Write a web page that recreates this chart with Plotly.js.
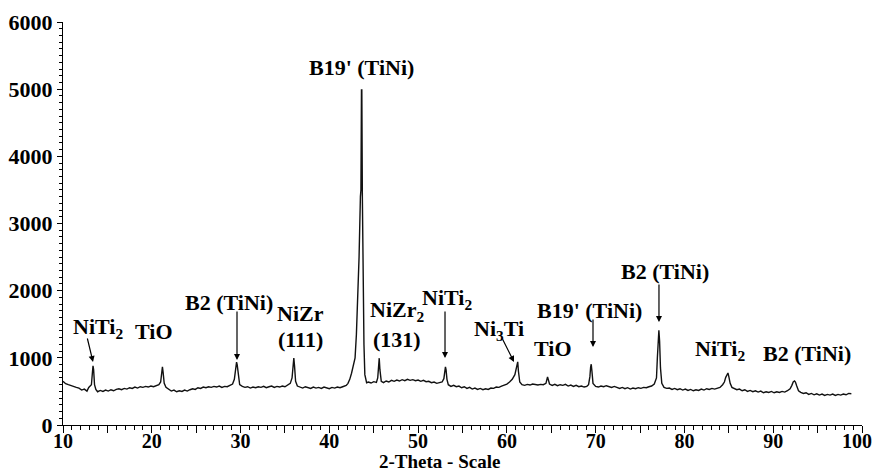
<!DOCTYPE html>
<html>
<head>
<meta charset="utf-8">
<script src="https://cdn.plot.ly/plotly-3.0.1.min.js"></script>
<style>html,body{margin:0;padding:0;background:#fff;}#chart{width:872px;height:472px;}</style>
</head>
<body>
<div id="chart"></div>
<script>
// 2-theta positions (degrees)
const twoTheta = [
  10.0, 10.3, 10.6, 10.9, 11.2, 11.5, 11.8, 12.1, 12.4, 12.7, 12.9, 13.05,
  13.2, 13.3, 13.38, 13.45, 13.55, 13.7,
  13.9, 14.2, 14.5, 14.8, 15.1, 15.4, 15.7, 16.0, 16.3, 16.6, 16.9, 17.2, 17.5, 17.8, 18.1, 18.4, 18.7, 19.0, 19.3, 19.6, 19.9, 20.2, 20.5, 20.8,
  21.0, 21.1, 21.2, 21.28, 21.4, 21.6,
  21.9, 22.2, 22.5, 22.8, 23.1, 23.4, 23.7, 24.0, 24.3, 24.6, 24.9, 25.2, 25.5, 25.8, 26.1, 26.4, 26.7, 27.0, 27.3, 27.6, 27.9, 28.2, 28.5, 28.8, 29.1,
  29.3, 29.45, 29.55, 29.62, 29.75, 29.9,
  30.2, 30.5, 30.8, 31.1, 31.4, 31.7, 32.0, 32.3, 32.6, 32.9, 33.2, 33.5, 33.8, 34.1, 34.4, 34.7, 35.0, 35.3, 35.6,
  35.8, 35.9, 36.0, 36.08, 36.2, 36.4,
  36.7, 37.0, 37.3, 37.6, 37.9, 38.2, 38.5, 38.8, 39.1, 39.4, 39.7, 40.0, 40.3, 40.6, 40.9, 41.2, 41.5, 41.7,
  41.9, 42.1, 42.3, 42.5, 42.7, 42.9, 43.05, 43.2, 43.35, 43.5, 43.56, 43.62, 43.66, 43.72, 43.8, 43.9, 44.0, 44.1, 44.2,
  44.4, 44.7, 45.0, 45.3,
  45.45, 45.55, 45.62, 45.7, 45.85,
  46.1, 46.4, 46.7, 47.0, 47.3, 47.6, 47.9, 48.2, 48.5, 48.8, 49.1, 49.4, 49.7, 50.0, 50.3, 50.6, 50.9, 51.2, 51.5, 51.8, 52.1, 52.4, 52.7,
  52.9, 53.0, 53.08, 53.15, 53.25, 53.4,
  53.7, 54.0, 54.3, 54.6, 54.9, 55.2, 55.5, 55.8, 56.1, 56.4, 56.7, 57.0, 57.3, 57.6, 57.9, 58.2, 58.5, 58.8, 59.1, 59.4, 59.7, 60.0, 60.3, 60.6, 60.9,
  61.05, 61.15, 61.22, 61.3, 61.45,
  61.7, 62.0, 62.3, 62.6, 62.9, 63.2, 63.5, 63.8, 64.1, 64.4,
  64.5, 64.58, 64.66, 64.8,
  65.1, 65.4, 65.7, 66.0, 66.3, 66.6, 66.9, 67.2, 67.5, 67.8, 68.1, 68.4, 68.7, 69.0, 69.2,
  69.35, 69.43, 69.5, 69.58, 69.7,
  70.0, 70.3, 70.6, 70.9, 71.2, 71.5, 71.8, 72.1, 72.4, 72.7, 73.0, 73.3, 73.6, 73.9, 74.2, 74.5, 74.8, 75.1, 75.4, 75.7, 76.0, 76.3, 76.6,
  76.85, 76.95, 77.05, 77.12, 77.2, 77.3, 77.45,
  77.7, 78.0, 78.3, 78.6, 78.9, 79.2, 79.5, 79.8, 80.1, 80.4, 80.7, 81.0, 81.3, 81.6, 81.9, 82.2, 82.5, 82.8, 83.1, 83.4, 83.7, 84.0, 84.3,
  84.5, 84.65, 84.8, 84.9, 85.0, 85.15, 85.35,
  85.6, 85.9, 86.2, 86.5, 86.8, 87.1, 87.4, 87.7, 88.0, 88.3, 88.6, 88.9, 89.2, 89.5, 89.8, 90.1, 90.4, 90.7, 91.0, 91.3, 91.6, 91.9,
  92.1, 92.25, 92.4, 92.5, 92.65, 92.85,
  93.1, 93.4, 93.7, 94.0, 94.3, 94.6, 94.9, 95.2, 95.5, 95.8, 96.1, 96.4, 96.7, 97.0, 97.3, 97.6, 97.9, 98.2, 98.5, 98.8
];
// intensity (counts)
const intensity = [
  650, 615, 600, 590, 575, 560, 548, 520, 535, 505, 560, 575,
  600, 760, 880, 820, 600, 530,
  495, 515, 500, 520, 505, 525, 510, 530, 540, 525, 545, 535, 555, 545, 565, 550, 570, 560, 575, 565, 580, 570, 585, 600,
  640, 760, 865, 780, 620, 560,
  530, 505, 520, 495, 510, 500, 520, 505, 525, 540, 530, 555, 545, 565, 555, 570, 560, 575, 565, 580, 560, 575, 570, 590, 610,
  680, 820, 935, 900, 700, 600,
  575, 560, 570, 550, 565, 555, 570, 560, 575, 555, 570, 580, 560, 575, 565, 580, 570, 590, 620,
  700, 820, 995, 880, 650, 580,
  565, 550, 570, 555, 545, 565, 550, 560, 545, 565, 555, 540, 560, 550, 565, 555, 570, 575,
  590, 620, 680, 770, 880, 1000, 1350, 1800, 2500, 3400, 3500, 4990, 4990, 3400, 2200, 1200, 750, 650, 630,
  640, 625, 645, 635,
  700, 880, 995, 820, 650,
  630, 655, 640, 665, 650, 670, 655, 675, 660, 680, 665, 675, 660, 670, 650, 665, 645, 650, 630, 640, 620, 630, 640,
  690, 790, 865, 820, 680, 600,
  575, 590, 570, 580, 555, 570, 545, 560, 535, 550, 530, 545, 525, 540, 530, 550, 545, 565, 560, 580, 595, 610, 640, 680, 750,
  830, 920, 940, 800, 640,
  600, 590, 605, 595, 610, 600, 595, 605, 600, 620,
  660, 715, 680, 610,
  590, 605, 585, 600, 590, 605, 580, 595, 575, 590, 570, 580, 565, 575, 600,
  720, 860, 905, 800, 620,
  575, 565, 580, 570, 585, 570, 560, 575, 555, 545, 560, 540, 555, 535, 550, 540, 555, 545, 560, 555, 570, 580, 610,
  700, 1000, 1300, 1410, 1250, 850, 620,
  560, 545, 550, 530, 545, 525, 540, 520, 535, 515, 530, 510, 525, 515, 535, 520, 540, 530, 545, 535, 550, 560, 600,
  640, 710, 770, 775, 720, 620, 560,
  540, 525, 535, 510, 525, 500, 515, 495, 510, 490, 505, 480, 495, 485, 500, 480, 495, 485, 500, 490, 510, 540,
  590, 640, 655, 640, 580, 510,
  485, 470, 480, 455, 470, 450, 465, 445, 460, 440, 455, 445, 460, 440, 455, 445, 460, 450, 470, 465
];

// x tick labels (every 5 degrees, labelled every 10)
const xTickVals = [10, 15, 20, 25, 30, 35, 40, 45, 50, 55, 60, 65, 70, 75, 80, 85, 90, 95, 100];
const xTickText = ['10', '', '20', '', '30', '', '40', '', '50', '', '60', '', '70', '', '80', '', '90', '', '100\u00a0\u00a0'];

// phase labels: [text, 2θ, intensity]
const phaseLabels = [
  ['NiTi<sub>2</sub>', 13.94, 1444],
  ['TiO', 20.25, 1385],
  ['B2 (TiNi)', 28.70, 1831],
  ['NiZr', 36.70, 1667],
  ['(111)', 36.70, 1280],
  ["B19' (TiNi)", 43.57, 5330],
  ['NiZr<sub>2</sub>', 47.62, 1697],
  ['(131)', 47.62, 1280],
  ['NiTi<sub>2</sub>', 53.25, 1876],
  ['Ni<sub>3</sub>Ti', 59.11, 1414],
  ['TiO', 65.19, 1146],
  ["B19' (TiNi)", 69.36, 1712],
  ['B2 (TiNi)', 77.81, 2278],
  ['NiTi<sub>2</sub>', 84.0, 1117],
  ['B2 (TiNi)', 93.8, 1072]
];
// arrows: [head 2θ, head intensity, tail dx px, tail dy px]
const arrowMarks = [
  [13.38, 938, -6, -25],
  [29.60, 968, 0, -50],
  [53.03, 998, 0, -48],
  [60.80, 938, -12, -24],
  [69.70, 1161, 0, -29],
  [77.13, 1533, 0, -39]
];

const FONT = '"Liberation Serif", "Times New Roman", Times, serif';

const annotations = [];
phaseLabels.forEach(function (p) {
  annotations.push({
    x: p[1], y: p[2], xref: 'x', yref: 'y',
    text: '<b>' + p[0] + '</b>', showarrow: false,
    xanchor: 'center', yanchor: 'middle',
    font: {family: FONT, size: 22, color: '#000'}
  });
});
arrowMarks.forEach(function (a) {
  annotations.push({
    x: a[0], y: a[1], xref: 'x', yref: 'y',
    ax: a[2], ay: a[3], text: '', showarrow: true,
    arrowhead: 2, arrowsize: 1, arrowwidth: 1.2, arrowcolor: '#000'
  });
});
annotations.push({
  x: 0.4706, y: 0, xref: 'paper', yref: 'paper',
  yshift: -36, borderpad: 0,
  text: '<b>2-Theta - Scale</b>', showarrow: false,
  xanchor: 'center', yanchor: 'middle',
  font: {family: FONT, size: 19, color: '#000'}
});

const trace = {
  x: twoTheta, y: intensity, type: 'scatter', mode: 'lines',
  line: {color: '#111', width: 1.4}, hoverinfo: 'skip'
};

const layout = {
  width: 872, height: 472,
  margin: {l: 63, r: 10, t: 22, b: 47},
  paper_bgcolor: '#fff', plot_bgcolor: '#fff',
  showlegend: false,
  font: {family: FONT, color: '#000'},
  xaxis: {
    range: [10, 100], showgrid: false, zeroline: false,
    showline: true, linecolor: '#000', linewidth: 1,
    tickmode: 'array', tickvals: xTickVals, ticktext: xTickText,
    ticks: 'outside', ticklen: 7, tickwidth: 1, tickcolor: '#000',
    ticklabelstandoff: -9, ticklabeloverflow: 'allow',
    minor: {dtick: 1, ticks: 'outside', ticklen: 4, tickwidth: 1, tickcolor: '#000', showgrid: false},
    tickfont: {family: FONT, size: 20, color: '#000', weight: 'bold'}
  },
  yaxis: {
    range: [0, 6000], showgrid: false, zeroline: false,
    showline: true, linecolor: '#000', linewidth: 1,
    tickmode: 'linear', tick0: 0, dtick: 1000,
    ticks: 'outside', ticklen: 5, tickwidth: 1, tickcolor: '#000',
    minor: {dtick: 100, ticks: 'outside', ticklen: 3, tickwidth: 1, tickcolor: '#000', showgrid: false},
    tickfont: {family: FONT, size: 22, color: '#000', weight: 'bold'}
  },
  annotations: annotations
};

Plotly.newPlot('chart', [trace], layout, {staticPlot: true, displayModeBar: false});
</script>
</body>
</html>
